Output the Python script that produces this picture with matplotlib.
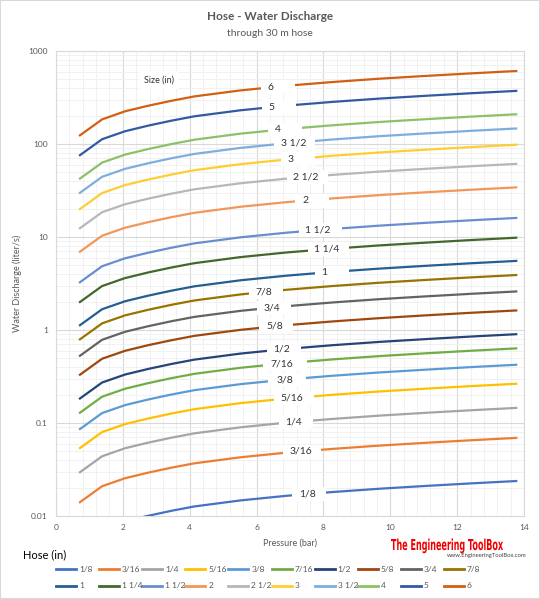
import numpy as np
import matplotlib.pyplot as plt
from matplotlib.lines import Line2D
from matplotlib.patches import PathPatch, Rectangle
from matplotlib.textpath import TextPath
from matplotlib.font_manager import FontProperties
from matplotlib.transforms import Affine2D
from matplotlib.ticker import MultipleLocator, LogLocator, NullFormatter

plt.rcParams['font.family'] = ['Lato', 'DejaVu Sans']

# pressure points (bar) - 10 .. 200 psi
pressure = [0.69, 1.38, 2.07, 2.76, 3.45, 4.14, 5.52, 6.9, 8.27, 9.65, 11.03, 12.41, 13.8]

# discharge (liter/s)
q_1_8 = [0.00476, 0.00719, 0.00876, 0.01006, 0.01137, 0.01267, 0.01471, 0.0165, 0.0181, 0.01962, 0.02102, 0.02242, 0.0238]
q_3_16 = [0.01385, 0.02091, 0.0255, 0.02927, 0.03307, 0.03685, 0.0428, 0.04802, 0.05266, 0.05708, 0.06116, 0.06523, 0.06925]
q_1_4 = [0.0291, 0.0439, 0.0536, 0.0615, 0.06949, 0.0774, 0.0899, 0.1009, 0.1106, 0.1199, 0.1285, 0.1371, 0.1455]
q_5_16 = [0.0529, 0.0799, 0.0974, 0.1118, 0.1263, 0.1408, 0.1635, 0.1834, 0.2011, 0.218, 0.2336, 0.2492, 0.2645]
q_3_8 = [0.0847, 0.1279, 0.1559, 0.179, 0.2023, 0.2254, 0.2617, 0.2937, 0.322, 0.3491, 0.374, 0.399, 0.4235]
q_7_16 = [0.127, 0.1918, 0.2338, 0.2684, 0.3033, 0.3379, 0.3924, 0.4403, 0.4829, 0.5234, 0.5608, 0.5982, 0.635]
q_1_2 = [0.1805, 0.2726, 0.3323, 0.3814, 0.431, 0.4803, 0.5577, 0.6258, 0.6863, 0.7438, 0.7971, 0.8502, 0.9025]
q_5_8 = [0.325, 0.491, 0.598, 0.687, 0.7761, 0.865, 1.004, 1.127, 1.236, 1.339, 1.435, 1.531, 1.625]
q_3_4 = [0.52, 0.785, 0.957, 1.099, 1.242, 1.384, 1.607, 1.803, 1.977, 2.143, 2.296, 2.449, 2.6]
q_7_8 = [0.781, 1.179, 1.438, 1.65, 1.865, 2.078, 2.413, 2.708, 2.969, 3.219, 3.449, 3.679, 3.905]
q_1 = [1.108, 1.673, 2.04, 2.341, 2.646, 2.948, 3.424, 3.841, 4.213, 4.566, 4.893, 5.219, 5.54]
q_1_1_4 = [1.967, 2.97, 3.62, 4.16, 4.697, 5.23, 6.08, 6.82, 7.479, 8.11, 8.686, 9.265, 9.84]
q_1_1_2 = [3.21, 4.85, 5.91, 6.78, 7.665, 8.54, 9.92, 11.13, 12.2, 13.23, 14.18, 15.12, 16.05]
q_2 = [6.84, 10.33, 12.59, 14.45, 16.33, 18.2, 21.14, 23.71, 26.01, 28.19, 30.21, 32.22, 34.2]
q_2_1_2 = [12.24, 18.48, 22.53, 25.86, 29.23, 32.57, 37.82, 42.44, 46.54, 50.44, 54.05, 57.65, 61.2]
q_3 = [19.65, 29.7, 36.2, 41.5, 46.92, 52.3, 60.7, 68.1, 74.71, 81.0, 86.77, 92.55, 98.3]
q_3_1_2 = [29.4, 44.4, 54.1, 62.1, 70.21, 78.2, 90.8, 101.9, 111.8, 121.2, 129.8, 138.5, 147.0]
q_4 = [41.8, 63.1, 77.0, 88.3, 99.82, 111.2, 129.2, 144.9, 158.9, 172.3, 184.6, 196.9, 209.0]
q_5 = [74.6, 112.6, 137.3, 157.6, 178.1, 198.5, 230.5, 258.6, 283.6, 307.4, 329.4, 351.4, 373.0]
q_6 = [122.0, 184.0, 225.0, 258.0, 291.3, 325.0, 377.0, 423.0, 463.8, 503.0, 538.8, 574.6, 610.0]

sizes = ['1/8', '3/16', '1/4', '5/16', '3/8', '7/16', '1/2', '5/8', '3/4', '7/8',
         '1', '1 1/4', '1 1/2', '2', '2 1/2', '3', '3 1/2', '4', '5', '6']
series = [q_1_8, q_3_16, q_1_4, q_5_16, q_3_8, q_7_16, q_1_2, q_5_8, q_3_4, q_7_8,
          q_1, q_1_1_4, q_1_1_2, q_2, q_2_1_2, q_3, q_3_1_2, q_4, q_5, q_6]

colors = ['#4472C4', '#ED7D31', '#A5A5A5', '#FFC000', '#5B9BD5', '#70AD47',
          '#264478', '#9E480E', '#636363', '#997300', '#255E91', '#43682B',
          '#698ED0', '#F1975A', '#B7B7B7', '#FFCD33', '#7CAFDD', '#8CC168',
          '#335AA1', '#D26012']

# where each size label sits along its curve (bar): text centre, white box span
label_x = [7.52, 7.32, 7.10, 7.05, 6.85, 6.75, 6.75, 6.55, 6.47, 6.23,
           8.03, 8.10, 7.82, 7.45, 7.48, 7.03, 7.10, 6.63, 6.43, 6.43]
box_x0 = [7.05, 6.79, 6.67, 6.52, 6.33, 6.19, 6.30, 6.07, 6.00, 5.77,
          7.75, 7.54, 7.27, 7.15, 6.91, 6.73, 6.52, 6.34, 6.16, 6.13]
box_x1 = [8.07, 7.92, 7.68, 7.72, 7.47, 7.51, 7.33, 7.09, 7.02, 6.79,
          8.76, 8.76, 8.55, 8.17, 8.14, 7.75, 7.75, 7.36, 7.18, 7.15]

W, H = 540, 599


def fx(px):
    return px / W


def fy(py):
    return 1 - py / H


fig = plt.figure(figsize=(W / 100, H / 100), dpi=100)
ax = fig.add_axes([fx(56), fy(516), (524 - 56) / W, (516 - 51) / H])

for q, c in zip(series, colors):
    ax.plot(pressure, q, color=c, lw=1.6, solid_capstyle='butt',
            solid_joinstyle='round', zorder=3)

box_f = 10 ** (7 / 93.2)  # half box height, as a factor on the log axis
for lbl, xl, b0, b1, q in zip(sizes, label_x, box_x0, box_x1, series):
    yl = 10 ** np.interp(xl, pressure, np.log10(q))
    ax.add_patch(Rectangle((b0, yl / box_f), b1 - b0, yl * box_f - yl / box_f,
                           fc='white', ec='none', zorder=3.5))
    ax.text(xl, yl, lbl, ha='center', va='center', fontsize=7.5, color='#333333',
            zorder=4)

ax.text(0.22, 0.938, 'Size (in)', transform=ax.transAxes, ha='center', va='center',
        fontsize=6.5, color='#333333',
        bbox=dict(boxstyle='square,pad=0.5', fc='white', ec='none'), zorder=4)

ax.set_yscale('log')
ax.set_xlim(0, 14)
ax.set_ylim(0.01, 1000)
ax.set_yticks([0.01, 0.1, 1, 10, 100, 1000])
ax.set_yticklabels(['0.01', '0.1', '1', '10', '100', '1000'])
ax.yaxis.set_minor_locator(LogLocator(base=10, subs=range(2, 10)))
ax.yaxis.set_minor_formatter(NullFormatter())
ax.xaxis.set_major_locator(MultipleLocator(2))
ax.xaxis.set_minor_locator(MultipleLocator(0.4))
ax.grid(which='major', color='#D9D9D9', lw=0.8)
ax.grid(which='minor', color='#EFEFEF', lw=0.6)
ax.set_axisbelow(True)
ax.tick_params(which='both', length=0, labelsize=6, colors='#595959')
ax.tick_params(axis='x', pad=6)
ax.tick_params(axis='y', pad=6)
for s in ax.spines.values():
    s.set_color('#D9D9D9')
    s.set_linewidth(0.8)

fig.text(fx(270), fy(16), 'Hose - Water Discharge', ha='center', va='center',
         fontsize=8.5, weight='bold', color='#595959')
fig.text(fx(270), fy(33), 'through 30 m hose', ha='center', va='center',
         fontsize=7.5, color='#595959')
fig.text(fx(290), fy(543), 'Pressure (bar)', ha='center', va='center',
         fontsize=6.5, color='#595959')
fig.text(fx(17), fy(283), 'Water Discharge (liter/s)', ha='center', va='center',
         rotation=90, fontsize=6.5, color='#595959')

# legend, laid out like the spreadsheet one
fig.text(fx(23), fy(555), 'Hose (in)', ha='left', va='center', fontsize=8, color='black')
for i, (lbl, c) in enumerate(zip(sizes, colors)):
    row, col = divmod(i, 10)
    x0 = 56 + 43.1 * col
    y0 = 569 + 17 * row
    fig.add_artist(Line2D([fx(x0), fx(x0 + 20)], [fy(y0), fy(y0)], color=c, lw=2,
                          transform=fig.transFigure))
    fig.text(fx(x0 + 23), fy(y0), lbl, ha='left', va='center', fontsize=6, color='#595959')

# logo text, squeezed to a condensed look
fp = FontProperties(family='DejaVu Sans', weight='bold')
tp = TextPath((0, 0), 'The Engineering ToolBox', size=10, prop=fp)
ext = tp.get_extents()
sx = 112 / ext.width
sy = 11 / 7.3
logo_tr = Affine2D().translate(-ext.x0, 0).scale(sx, sy).translate(391, H - 550)
fig.add_artist(PathPatch(tp, transform=logo_tr, fc='#F00000', ec='none'))
fig.text(fx(527), fy(556), 'www.EngineeringToolBox.com', ha='right', va='center',
         fontsize=4.2, color='#404040')

fig.add_artist(Rectangle((0, 0), 1, 1, transform=fig.transFigure, fill=False,
                         ec='#D9D9D9', lw=1.5))

fig.savefig('out.png', dpi=100)
